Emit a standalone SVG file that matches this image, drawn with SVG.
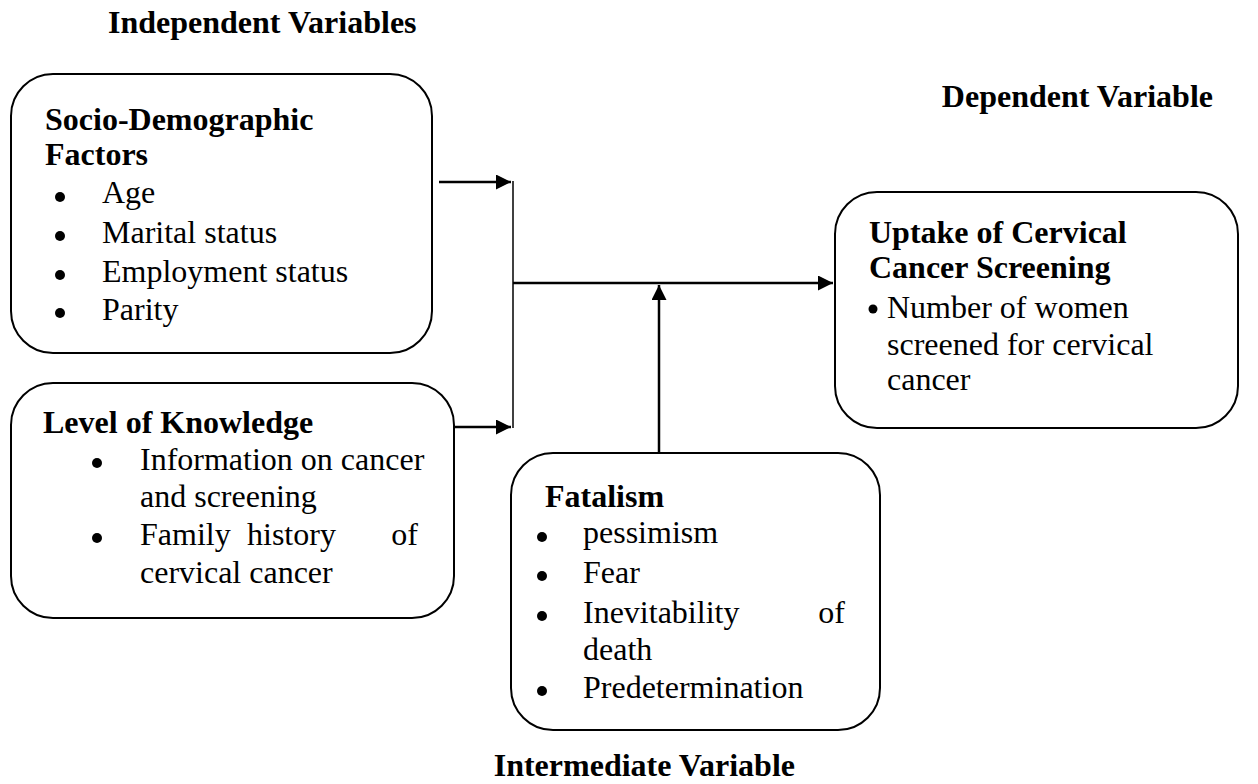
<svg xmlns="http://www.w3.org/2000/svg" width="1258" height="784" viewBox="0 0 1258 784">
<defs>
<style>
.box{fill:#fff;stroke:#000;stroke-width:2}
.t{font-family:"Liberation Serif","Times New Roman",serif;font-size:32px;fill:#000}
.b{font-weight:bold}
.ln{stroke:#000;stroke-width:2.5;fill:none}
.thin{stroke:#000;stroke-width:1.5;fill:none}
.dot{fill:#000}
</style>
<marker id="ah" viewBox="0 0 10 10" refX="10" refY="5" markerWidth="6" markerHeight="6" markerUnits="strokeWidth" orient="auto">
<path d="M0,0 L10,5 L0,10 Z" fill="#000"/>
</marker>
</defs>
<rect width="1258" height="784" fill="#fff"/>

<g id="headers">
<text class="t b" x="108" y="33">Independent Variables</text>
<text class="t b" x="1213" y="107" text-anchor="end">Dependent Variable</text>
<text class="t b" x="795" y="776" text-anchor="end">Intermediate Variable</text>
</g>

<g id="connectors">
<line class="ln" x1="439" y1="182" x2="511" y2="182" marker-end="url(#ah)"/>
<line class="ln" x1="454" y1="427" x2="511" y2="427" marker-end="url(#ah)"/>
<line class="thin" x1="513" y1="181" x2="513" y2="428"/>
<line class="ln" x1="513" y1="283" x2="833" y2="283" marker-end="url(#ah)"/>
<line class="ln" x1="659" y1="453" x2="659" y2="285" marker-end="url(#ah)"/>
</g>

<g id="socio">
<rect class="box" x="11" y="74" width="421" height="279" rx="42" ry="42"/>
<text class="t b" x="45" y="130">Socio-Demographic</text>
<text class="t b" x="45" y="165">Factors</text>
<circle class="dot" cx="60" cy="197" r="5"/>
<circle class="dot" cx="60" cy="236" r="5"/>
<circle class="dot" cx="60" cy="275" r="5"/>
<circle class="dot" cx="60" cy="313" r="5"/>
<text class="t" x="102" y="203">Age</text>
<text class="t" x="102" y="243">Marital status</text>
<text class="t" x="102" y="282">Employment status</text>
<text class="t" x="102" y="320">Parity</text>
</g>

<g id="knowledge">
<rect class="box" x="11" y="383" width="443" height="235" rx="42" ry="42"/>
<text class="t b" x="43" y="433">Level of Knowledge</text>
<circle class="dot" cx="97" cy="463" r="5"/>
<circle class="dot" cx="97" cy="538" r="5"/>
<text class="t" x="140" y="470">Information on cancer</text>
<text class="t" x="140" y="507">and screening</text>
<text class="t" x="140" y="545">Family</text>
<text class="t" x="247" y="545">history</text>
<text class="t" x="418" y="545" text-anchor="end">of</text>
<text class="t" x="140" y="583">cervical cancer</text>
</g>

<g id="uptake">
<rect class="box" x="835" y="192" width="403" height="236" rx="42" ry="42"/>
<text class="t b" x="869" y="243">Uptake of Cervical</text>
<text class="t b" x="869" y="278">Cancer Screening</text>
<circle class="dot" cx="873" cy="309" r="4.5"/>
<text class="t" x="887" y="318">Number of women</text>
<text class="t" x="887" y="355">screened for cervical</text>
<text class="t" x="887" y="390">cancer</text>
</g>

<g id="fatalism">
<rect class="box" x="511" y="453" width="369" height="277" rx="42" ry="42"/>
<text class="t b" x="545" y="507">Fatalism</text>
<circle class="dot" cx="542" cy="537" r="5"/>
<circle class="dot" cx="542" cy="576" r="5"/>
<circle class="dot" cx="542" cy="616" r="5"/>
<circle class="dot" cx="542" cy="691" r="5"/>
<text class="t" x="583" y="543">pessimism</text>
<text class="t" x="583" y="583">Fear</text>
<text class="t" x="583" y="623">Inevitability</text>
<text class="t" x="845" y="623" text-anchor="end">of</text>
<text class="t" x="583" y="660">death</text>
<text class="t" x="583" y="698">Predetermination</text>
</g>
</svg>
